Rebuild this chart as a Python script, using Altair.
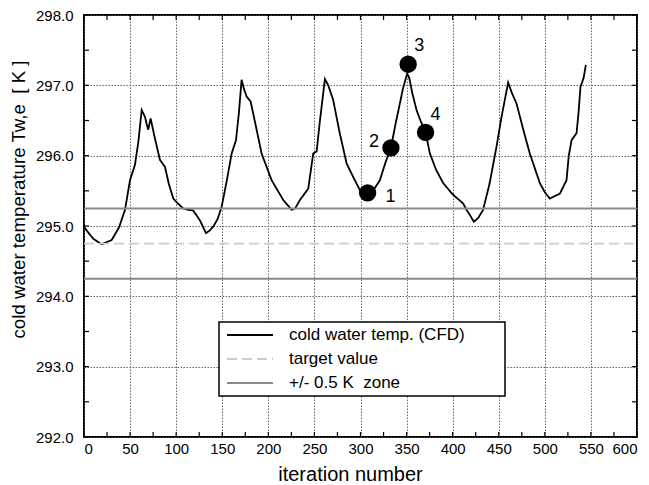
import altair as alt
import pandas as pd

# ---------------- data ----------------
iters = [0, 5, 10, 19, 30, 38, 44.5, 49.9, 55.3, 59, 62.6, 66.2, 68, 69.7, 72.3, 76,
         82.4, 87.9, 92, 96.9, 101, 107.7, 113, 118.5, 125.8, 132.3, 136, 140.2, 145,
         149.3, 155, 160.2, 164.9, 168, 171, 173.5, 176.5, 180.8, 186, 192.7, 203.6,
         216.2, 225.3, 229, 234.3, 243.3, 248.7, 252.4, 256, 261.4, 265, 270.4, 277,
         284.9, 292, 299.3, 307.7, 315, 321, 327, 333, 338, 342.7, 346, 350.7, 353,
         356, 360.8, 365, 370.6, 375.3, 382, 389.7, 400, 411.4, 415, 419, 423, 428,
         433, 440, 447.6, 453, 460.2, 464, 469.3, 476, 483.7, 494.6, 500, 505.4, 510,
         516.3, 523.5, 526, 529, 534.4, 536.5, 538.7, 542, 544.5]
temps = [294.99, 294.90, 294.82, 294.74, 294.80, 294.98, 295.23, 295.65, 295.87, 296.20,
         296.65, 296.55, 296.45, 296.37, 296.53, 296.30, 295.94, 295.84, 295.60, 295.39,
         295.33, 295.25, 295.23, 295.22, 295.08, 294.90, 294.93, 294.99, 295.10, 295.27,
         295.65, 296.03, 296.22, 296.60, 297.08, 296.95, 296.84, 296.77, 296.45, 296.03,
         295.65, 295.37, 295.23, 295.25, 295.37, 295.53, 296.03, 296.06, 296.50, 297.09,
         297.00, 296.79, 296.35, 295.89, 295.70, 295.51, 295.47, 295.53, 295.65, 295.90,
         296.11, 296.45, 296.74, 296.95, 297.17, 297.10, 296.90, 296.65, 296.50, 296.33,
         296.03, 295.80, 295.61, 295.45, 295.32, 295.23, 295.15, 295.06, 295.12, 295.23,
         295.60, 296.13, 296.55, 297.04, 296.90, 296.74, 296.40, 296.03, 295.61, 295.48,
         295.39, 295.42, 295.46, 295.65, 296.00, 296.22, 296.32, 296.60, 296.98, 297.10,
         297.29]

dot_x = [307.7, 333.0, 351.7, 370.6]
dot_y = [295.47, 296.11, 297.30, 296.33]
dot_labels = ["1", "2", "3", "4"]

target_value = 294.75
zone_values = [295.25, 294.25]
x_range = [0, 600]
y_range = [292, 298]

series_names = ["cold water temp. (CFD)", "target value", "+/- 0.5 K\u00a0 zone"]

x_label_values = list(range(0, 601, 50))
y_label_values = [292, 293, 294, 295, 296, 297, 298]
x_tick_values = list(range(0, 601, 25))
y_tick_values = [292 + 0.5 * i for i in range(13)]

# ---------------- styles ----------------
W, H = 553, 422
FONT = "Liberation Sans"
label_offsets = [(23, 4), (-17, -6), (11, -18), (10, -17)]
LEG_X, LEG_Y, LEG_W, LEG_H = 135, 307, 286, 74

# ---------------- tables ----------------
rows = []
for xi, yi in zip(iters, temps):
    rows.append({"x": xi, "y": yi, "series": series_names[0], "group": "cfd"})
for xi in x_range:
    rows.append({"x": xi, "y": target_value, "series": series_names[1], "group": "target"})
for k, zv in enumerate(zone_values):
    for xi in x_range:
        rows.append({"x": xi, "y": zv, "series": series_names[2], "group": f"zone{k}"})
lines_df = pd.DataFrame(rows)

dots_df = pd.DataFrame({"x": dot_x, "y": dot_y, "label": dot_labels})
xt_df = pd.DataFrame({"x": x_tick_values})
yt_df = pd.DataFrame({"y": y_tick_values})

x_scale = alt.Scale(domain=x_range, nice=False, zero=False)
y_scale = alt.Scale(domain=y_range, nice=False, zero=False)

x_axis = alt.Axis(values=x_label_values, grid=True, ticks=False, domain=False,
                  labelFontSize=15, labelPadding=4, labelColor="black",
                  title="iteration number", titleFontSize=20, titleFontWeight="normal",
                  titleColor="black", titleX=266, titleY=37, titleAlign="center",
                  titleBaseline="middle",
                  gridColor="#555555", gridDash=[1.5, 1.5], gridWidth=1, gridOpacity=0.9)
y_axis = alt.Axis(values=y_label_values, format=".1f", grid=True, ticks=False, domain=False,
                  labelFontSize=15, labelPadding=11, labelColor="black",
                  title="cold water temperature Tw,e\u00a0 [ K ]", titleFontSize=18.7,
                  titleFontWeight="normal", titleColor="black",
                  titleX=-66, titleY=184, titleAlign="center", titleBaseline="middle",
                  gridColor="#555555", gridDash=[1.5, 1.5], gridWidth=1, gridOpacity=0.9)

legend = alt.Legend(title=None, orient="none", legendX=LEG_X, legendY=LEG_Y,
                    symbolType="M-3,0H3", symbolSize=235, labelFontSize=17,
                    symbolOffset=18, labelOffset=30, padding=4, rowPadding=7,
                    labelLimit=400, labelColor="black")

# legend frame (drawn as a plot layer so it covers the grid)
frame = alt.Chart(pd.DataFrame({"k": [0]})).mark_rect(
    fill="white", stroke="black", strokeWidth=1.5
).encode(x=alt.value(LEG_X), x2=alt.value(LEG_X + LEG_W),
         y=alt.value(LEG_Y), y2=alt.value(LEG_Y + LEG_H))

lines = alt.Chart(lines_df).mark_line().encode(
    x=alt.X("x:Q", scale=x_scale, axis=x_axis),
    y=alt.Y("y:Q", scale=y_scale, axis=y_axis),
    color=alt.Color("series:N", scale=alt.Scale(domain=series_names,
                    range=["black", "#cccccc", "#8a8a8a"]), legend=legend),
    strokeDash=alt.StrokeDash("series:N", scale=alt.Scale(domain=series_names,
                    range=[[1, 0], [10, 5], [1, 0]]), legend=legend),
    strokeWidth=alt.StrokeWidth("series:N", scale=alt.Scale(domain=series_names,
                    range=[1.8, 2, 2.8]), legend=legend),
    detail="group:N",
)

dots = alt.Chart(dots_df).mark_circle(size=300, color="black", opacity=1).encode(
    x=alt.X("x:Q", scale=x_scale, axis=x_axis),
    y=alt.Y("y:Q", scale=y_scale, axis=y_axis),
)

texts = []
for lab, (dx, dy) in zip(dot_labels, label_offsets):
    texts.append(
        alt.Chart(dots_df).transform_filter(alt.datum.label == lab)
        .mark_text(dx=dx, dy=dy, fontSize=18, color="black", font=FONT)
        .encode(x=alt.X("x:Q", scale=x_scale, axis=x_axis),
                y=alt.Y("y:Q", scale=y_scale, axis=y_axis),
                text="label:N")
    )

tick_len = 5
x_ticks_bottom = alt.Chart(xt_df).mark_rule(color="black", strokeWidth=1.2).encode(
    x=alt.X("x:Q", scale=x_scale, axis=x_axis), y=alt.value(H), y2=alt.value(H - tick_len))
x_ticks_top = alt.Chart(xt_df).mark_rule(color="black", strokeWidth=1.2).encode(
    x=alt.X("x:Q", scale=x_scale, axis=x_axis), y=alt.value(0), y2=alt.value(tick_len))
y_ticks_left = alt.Chart(yt_df).mark_rule(color="black", strokeWidth=1.2).encode(
    y=alt.Y("y:Q", scale=y_scale, axis=y_axis), x=alt.value(0), x2=alt.value(tick_len))
y_ticks_right = alt.Chart(yt_df).mark_rule(color="black", strokeWidth=1.2).encode(
    y=alt.Y("y:Q", scale=y_scale, axis=y_axis), x=alt.value(W), x2=alt.value(W - tick_len))

chart = alt.layer(frame, lines, dots, *texts, x_ticks_bottom, x_ticks_top,
                  y_ticks_left, y_ticks_right).properties(
    width=W, height=H,
    padding={"left": 76, "top": 7, "right": 4, "bottom": 48},
    autosize=alt.AutoSizeParams(type="none"),
).configure(font=FONT).configure_view(
    stroke="black", strokeWidth=2
)

chart.save("out.html", embed_options={"renderer": "svg", "actions": False})
